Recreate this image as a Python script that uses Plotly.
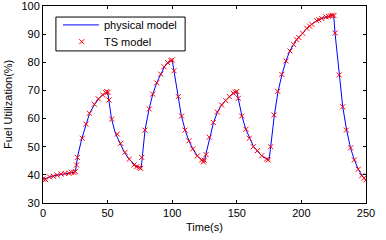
import plotly.graph_objects as go

phys_t = [0, 3, 6, 10, 15, 20, 25, 26, 27, 30, 33, 36, 40, 43, 46, 49, 50, 51, 53, 56, 60, 63, 67, 71, 75, 76,
          77, 79, 82, 85, 88, 91, 94, 97, 100, 101, 104.7, 107, 110, 113, 116, 119.5, 123, 125,
          126, 129, 132, 135, 138, 141, 144, 147, 150, 151, 154, 157, 160, 163, 166, 169, 173, 175,
          176, 179, 182, 185, 188, 191, 194, 197, 201, 204, 208, 212, 216, 220, 223.5, 225,
          226, 229.3, 232, 235, 238, 241, 244, 247, 250]
phys_u = [38.3, 38.9, 39.4, 39.8, 40.3, 40.6, 41.0, 43.5, 47, 52.8, 57.8, 61.8, 65.1, 67, 68.4, 69.3, 69.6, 66.5, 60, 54.8, 51, 48, 45.4, 43.6, 42.5, 42.3,
          47, 56, 63.2, 68.7, 72.7, 75.8, 78.4, 80, 80.8, 78, 67.8, 61.2, 55.9, 52, 49.2, 46.7, 45.2, 44.8,
          47.2, 53.5, 58.6, 62.3, 64.7, 66.3, 67.7, 68.9, 69.6, 67.5, 60.8, 56.2, 52.9, 50, 48.5, 46.9, 45.7, 45.5,
          49, 61, 69.8, 75.7, 80.4, 84, 86.4, 88.6, 90.3, 92, 93.5, 94.8, 95.6, 96.2, 96.6, 96.8,
          90.5, 75.5, 64.2, 55.9, 49.6, 45.3, 42, 39.7, 38.0]

ts_t = [0, 2, 5, 8, 11, 14, 17, 20, 22, 24, 25, 26, 26.6, 30.4, 33.3, 35.9, 39.7, 42.8, 46.2, 48.5, 49.3, 50.3,
        51.1, 53.2, 57.5, 60.1, 63.5, 66.8, 70.4, 72.5, 74.5, 75.6, 76.4, 78.9, 82.3, 84.9, 88, 91.1, 93.7, 96.5,
        99, 100, 101.4, 104.7, 107.3, 109.9, 113, 115.9, 119.4, 122.8, 124.2, 124.8, 126.2, 128.7, 131.8, 134.9,
        138.3, 141.4, 144.2, 147.3, 148.8, 150, 151.2, 153.8, 157.1, 159.7, 162.8, 165.9, 169.3, 173.1, 174.4,
        176.2, 178.8, 181.6, 184.8, 188.1, 191.2, 194, 196.3, 198, 201, 204.1, 206.5, 208, 211.8, 213.5, 215.7,
        219, 221, 222.5, 224, 225.2, 226.1, 229.3, 232, 234.8, 238.1, 241, 244, 246.7, 248.5, 250]
ts_u = [38.5, 38.3, 39.3, 39.5, 39.9, 40.3, 40.5, 40.6, 40.9, 40.8, 41.2, 43.5, 46.2, 53, 58, 61.9, 65.1, 67, 68.4, 69.2, 69.6, 69.3,
        66.6, 59.8, 54.5, 51.2, 48, 45.6, 43.5, 42.9, 42.6, 42.3, 46.2, 55.9, 63.4, 68.7, 72.7, 75.8, 78.4, 79.9,
        80.6, 80.8, 77, 67.8, 60.9, 55.9, 52.1, 49.2, 46.7, 45.3, 44.6, 45.2, 47.2, 53.4, 58.6, 62.3,
        64.8, 66.4, 67.8, 69, 69.4, 69.6, 67.2, 60.9, 56.2, 53, 50, 48.6, 46.8, 45.6, 45.3,
        50, 61.3, 69.7, 75.7, 80.5, 84, 86.3, 88, 88.8, 90.3, 92.1, 92.8, 93.5, 94.8, 95.1, 95.6,
        96.1, 96.3, 96.5, 96.7, 96.6, 90.4, 75.5, 64.2, 55.9, 49.6, 45.3, 42, 39.7, 38.8, 38.2]

x_ticks = [0, 50, 100, 150, 200, 250]
y_ticks = [30, 40, 50, 60, 70, 80, 90, 100]
series_names = ["physical model", "TS model"]

FONT = "Liberation Sans, Arial, sans-serif"
FS = 11
BLUE = "#0000ff"
RED = "#ff0000"

fig = go.Figure()
fig.add_trace(go.Scatter(x=phys_t, y=phys_u, mode="lines", name=series_names[0],
                         line=dict(color=BLUE, width=1), showlegend=False))
fig.add_trace(go.Scatter(x=ts_t, y=ts_u, mode="markers", name=series_names[1],
                         marker=dict(symbol="x-thin", size=5, color=RED,
                                     line=dict(color=RED, width=1)), showlegend=False))

# legend glyph marker, drawn on an overlay axis in paper-fraction units
fig.add_trace(go.Scatter(x=[0.120], y=[0.819], mode="markers", xaxis="x2", yaxis="y2",
                         marker=dict(symbol="x-thin", size=5, color=RED,
                                     line=dict(color=RED, width=1)),
                         showlegend=False, hoverinfo="skip"))

axis_common = dict(showgrid=False, zeroline=False, showline=True, linecolor="black", linewidth=1,
                   mirror="ticks", ticks="inside", ticklen=3, tickcolor="black", automargin=False,
                   ticklabeloverflow="allow",
                   tickfont=dict(family=FONT, size=FS, color="black"))

fig.update_layout(
    width=386, height=240,
    margin=dict(l=43, r=20, t=6, b=37),
    paper_bgcolor="white", plot_bgcolor="white",
    font=dict(family=FONT, size=FS, color="black"),
    xaxis=dict(range=[0, 250], tickvals=x_ticks, **axis_common),
    yaxis=dict(range=[30, 100], tickvals=y_ticks, **axis_common),
    xaxis2=dict(range=[0, 1], overlaying="x", visible=False),
    yaxis2=dict(range=[0, 1], overlaying="y", visible=False),
    showlegend=False,
    shapes=[
        dict(type="rect", xref="paper", yref="paper", x0=0.040, x1=0.440, y0=0.772, y1=0.944,
             line=dict(color="black", width=1), fillcolor="white", layer="below"),
        dict(type="line", xref="paper", yref="paper", x0=0.062, x1=0.173, y0=0.904, y1=0.904,
             line=dict(color=BLUE, width=1)),
    ],
    annotations=[
        dict(text=series_names[0], xref="paper", yref="paper", x=0.182, y=0.904,
             xanchor="left", yanchor="middle", showarrow=False, font=dict(size=FS, color="black")),
        dict(text=series_names[1], xref="paper", yref="paper", x=0.182, y=0.819,
             xanchor="left", yanchor="middle", showarrow=False, font=dict(size=FS, color="black")),
        dict(text="Time(s)", xref="paper", yref="paper", x=0.5, y=-0.122,
             xanchor="center", yanchor="middle", showarrow=False, font=dict(size=FS, color="black")),
        dict(text="Fuel Utilization(%)", xref="paper", yref="paper", x=-0.11, y=0.5, textangle=-90,
             xanchor="center", yanchor="middle", showarrow=False, font=dict(size=FS, color="black")),
    ],
)

fig.write_html("out.html", config={"displayModeBar": False, "staticPlot": True},
               post_script="document.body.style.margin='0';document.body.style.padding='0';")
